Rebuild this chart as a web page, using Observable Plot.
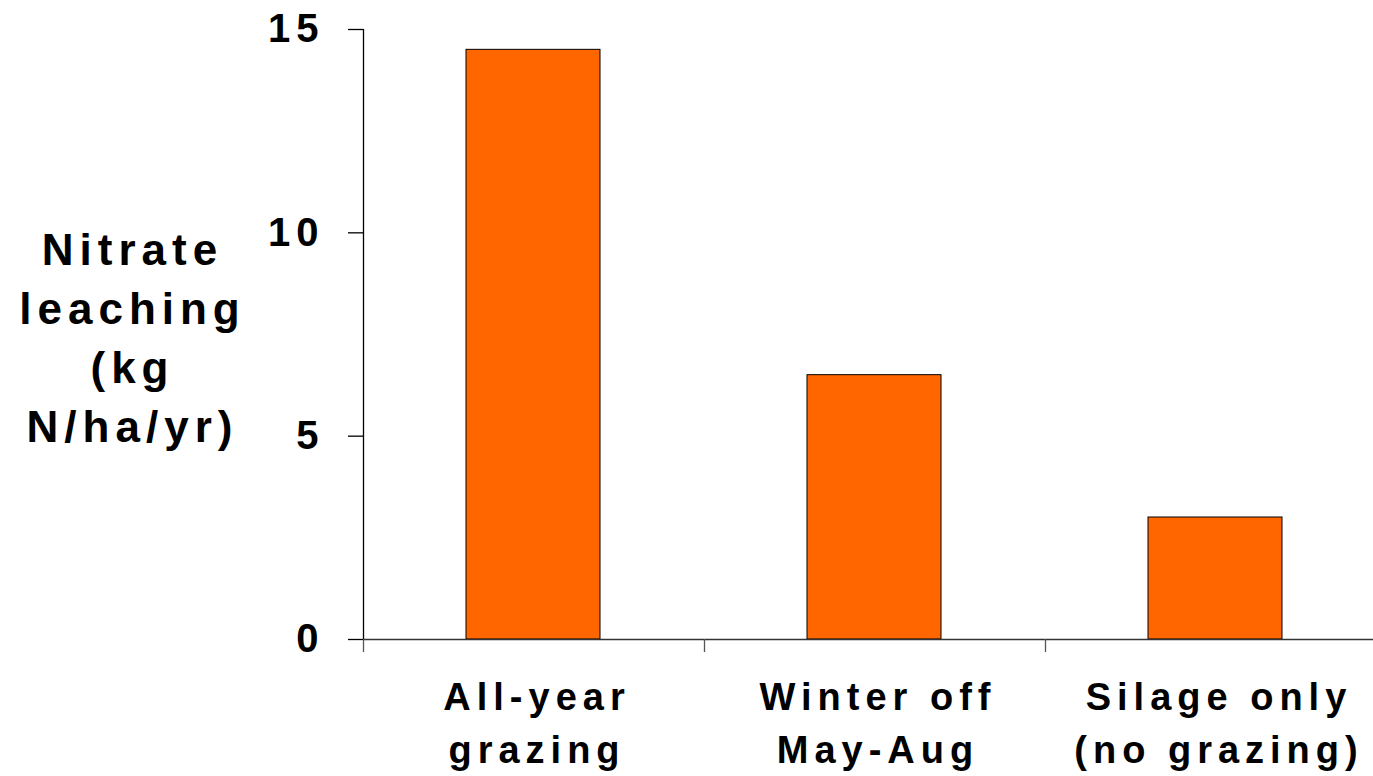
<!DOCTYPE html>
<html>
<head>
<meta charset="utf-8">
<script src="https://cdn.jsdelivr.net/npm/d3@7"></script>
<script src="https://cdn.jsdelivr.net/npm/@observablehq/plot@0.6"></script>
<style>
  html, body { margin: 0; padding: 0; background: #fff; overflow: hidden; }
  #chart { width: 1373px; height: 776px; overflow: hidden; }
  #chart svg { max-width: none !important; width: 1386px !important; height: 776px !important; }
</style>
</head>
<body>
<div id="chart"></div>
<script>
const categories = ["All-year\ngrazing", "Winter off\nMay-Aug", "Silage only\n(no grazing)"];
const values = [14.5, 6.5, 3.0];
const yTicks = [0, 5, 10, 15];
const xTicks = [0, 1, 2, 3];
const yLabel = "Nitrate\nleaching\n(kg\nN/ha/yr)";

const data = categories.map((c, i) => ({category: c, index: i, value: values[i]}));

const chart = Plot.plot({
  width: 1386,
  height: 776,
  marginLeft: 363,
  marginRight: 0,
  marginTop: 29,
  marginBottom: 137,
  style: {fontFamily: "'Liberation Sans', Arial, sans-serif", fontWeight: "bold", color: "#000", background: "#fff", letterSpacing: "6px"},
  x: {type: "linear", domain: [0, 3]},
  y: {domain: [0, 15]},
  marks: [
    Plot.rectY(data, {x1: d => d.index, x2: d => d.index + 1, y: "value", insetLeft: 103, insetRight: 104, fill: "#FF6600", stroke: "#000", strokeWidth: 1}),
    Plot.ruleY([0], {stroke: "#333", strokeWidth: 1.3}),
    Plot.ruleX([0], {y1: 0, y2: 15, stroke: "#000", strokeWidth: 1.3}),
    Plot.axisX({ticks: xTicks, tickSize: 13, tickFormat: () => "", label: null, stroke: "#555", strokeWidth: 1.3}),
    Plot.axisY({ticks: yTicks, tickSize: 15, tickPadding: 24, tickFormat: d => String(d), label: null, fontSize: 40, fontWeight: "bold", stroke: "#000", strokeWidth: 1.3}),
    Plot.text(data, {x: d => d.index + 0.5, text: "category", frameAnchor: "bottom", dx: 3, dy: 80, lineAnchor: "middle", lineHeight: 1.4, fontSize: 38, fontWeight: "bold", fill: "#000"}),
    Plot.text([yLabel], {text: d => d, frameAnchor: "left", dx: -231, textAnchor: "middle", lineAnchor: "middle", lineHeight: 1.34, fontSize: 44, fontWeight: "bold", fill: "#000"})
  ]
});
document.getElementById("chart").appendChild(chart);
</script>
</body>
</html>
